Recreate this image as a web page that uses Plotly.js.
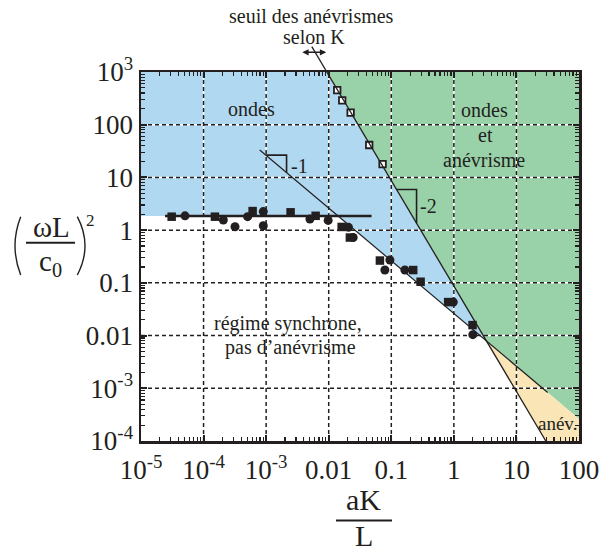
<!DOCTYPE html>
<html>
<head>
<meta charset="utf-8">
<script src="https://cdn.plot.ly/plotly-3.0.1.min.js"></script>
<style>html,body{margin:0;padding:0;background:#fff;}#chart{width:603px;height:551px;}</style>
</head>
<body>
<div id="chart"></div>
<script>
// ---------- data ----------
const X_TICKS = [1e-5, 1e-4, 1e-3, 0.01, 0.1, 1, 10, 100];
const X_TICK_TEXT = ['10<sup>-5</sup>', '10<sup>-4</sup>', '10<sup>-3</sup>', '0.01', '0.1', '1', '10', '100'];
const Y_TICKS = [1e-4, 1e-3, 0.01, 0.1, 1, 10, 100, 1000];
const Y_TICK_TEXT = ['10<sup>-4</sup>', '10<sup>-3</sup>', '0.01', '0.1', '1', '10', '100', '10<sup>3</sup>'];

// filled squares
const squaresX = [3.09e-5, 1.52e-4, 6.08e-4, 2.46e-3, 6.18e-3, 0.0161, 0.0218, 0.0658, 0.224, 0.294, 0.811, 1.99];
const squaresY = [1.80, 1.80, 2.30, 2.18, 1.87, 1.15, 0.724, 0.265, 0.175, 0.105, 0.0432, 0.0158];
// filled circles
const circlesX = [5.05e-5, 2.07e-4, 3.18e-4, 5.06e-4, 9.0e-4, 9.0e-4, 5.01e-3, 9.8e-3, 0.0207, 0.0246, 0.095, 0.079, 0.165, 0.98, 2.01];
const circlesY = [1.87, 1.56, 1.16, 1.80, 2.25, 1.21, 1.63, 1.53, 1.13, 0.724, 0.271, 0.175, 0.175, 0.0432, 0.0104];
// open squares (aneurysm threshold)
const openX = [0.01368, 0.01644, 0.0224, 0.0444, 0.0726];
const openY = [455, 290, 169, 41.2, 17.9];

// horizontal line (synchronous limit)
const hLineX = [2.42e-5, 0.0484];
const hLineY = [1.85, 1.85];
// slope -1 line (drawn part)
const lineAX = [7.9e-4, 31.6];
const lineAY = [33.2, 8.3e-4];
// slope -2 line (threshold according to K), from above the frame to the bottom axis
const lineBX = [5.37e-3, 29.5];
const lineBY = [3020, 1e-4];
// slope triangles: x extents on each line
const tri1X = [9.9e-4, 2.12e-3];
const tri2X = [0.1216, 0.2535];

// ---------- styling ----------
const F = 'Liberation Serif';
const C = '#231F20';
const BLUE = '#B0D8F1', GREEN = '#99D2A9', ORANGE = '#FAE5B6';
const XR = [-5, 2], YR = [-4, 3];
const L = 141, R = 579, T = 72, B = 441;
const PX = p => (p - L) / (R - L);
const PY = p => (B - p) / (B - T);

const lg = Math.log10;
function lineFn(xs, ys) {
  const m = (lg(ys[1]) - lg(ys[0])) / (lg(xs[1]) - lg(xs[0]));
  const c = lg(ys[0]) - m * lg(xs[0]);
  return {m, c, y: x => Math.pow(10, c + m * lg(x)), x: y => Math.pow(10, (lg(y) - c) / m)};
}
const A = lineFn(lineAX, lineAY);
const Bl = lineFn(lineBX, lineBY);
const xmin = Math.pow(10, XR[0]), xmax = Math.pow(10, XR[1]);
const ymin = Math.pow(10, YR[0]), ymax = Math.pow(10, YR[1]);

// intersections
const xHA = A.x(hLineY[0]);
const uAB = (Bl.c - A.c) / (A.m - Bl.m);
const xAB = Math.pow(10, uAB), yAB = A.y(xAB);
const xBtop = Bl.x(ymax), xBbot = Bl.x(ymin);
const yAright = A.y(xmax);

function poly(xs, ys, col) {
  return {x: xs, y: ys, type: 'scatter', mode: 'lines', fill: 'toself', fillcolor: col,
          line: {width: 0, color: col}, hoverinfo: 'skip'};
}
const traces = [];
traces.push(poly([xmin, xHA, xAB, xBtop, xmin], [hLineY[0], hLineY[0], yAB, ymax, ymax], BLUE));
traces.push(poly([xBtop, xAB, xmax, xmax], [ymax, yAB, yAright, ymax], GREEN));
traces.push(poly([xAB, xmax, xmax, xBbot], [yAB, yAright, ymin, ymin], ORANGE));

// grid lines (drawn as traces so they sit above the coloured regions)
const gx = [], gy = [];
X_TICKS.slice(1, -1).forEach(v => { gx.push(v, v, null); gy.push(ymin, ymax, null); });
Y_TICKS.slice(1, -1).forEach(v => { gx.push(xmin, xmax, null); gy.push(v, v, null); });
traces.push({x: gx, y: gy, type: 'scatter', mode: 'lines', line: {color: '#ffffff', width: 1.5}, hoverinfo: 'skip'});
traces.push({x: gx, y: gy, type: 'scatter', mode: 'lines', line: {color: C, width: 1.5, dash: '4px,3px'}, hoverinfo: 'skip'});

// horizontal line
traces.push({x: hLineX, y: hLineY, type: 'scatter', mode: 'lines', line: {color: C, width: 2.4}});
// slope -1 line
traces.push({x: lineAX, y: lineAY, type: 'scatter', mode: 'lines', line: {color: C, width: 1.2}});
// slope triangles
traces.push({x: [tri1X[0], tri1X[1], tri1X[1]], y: [A.y(tri1X[0]), A.y(tri1X[0]), A.y(tri1X[1])],
             type: 'scatter', mode: 'lines', line: {color: C, width: 1.6}});
traces.push({x: [tri2X[0], tri2X[1], tri2X[1]], y: [Bl.y(tri2X[0]), Bl.y(tri2X[0]), Bl.y(tri2X[1])],
             type: 'scatter', mode: 'lines', line: {color: C, width: 1.6}});
// markers
traces.push({x: squaresX, y: squaresY, type: 'scatter', mode: 'markers',
             marker: {symbol: 'square', size: 8.5, color: C, line: {width: 0}}});
traces.push({x: circlesX, y: circlesY, type: 'scatter', mode: 'markers',
             marker: {symbol: 'circle', size: 9, color: C, line: {width: 0}}});
traces.push({x: openX, y: openY, type: 'scatter', mode: 'markers',
             marker: {symbol: 'square', size: 6.5, color: '#ffffff', line: {width: 1.8, color: C}}});
// slope -2 line (drawn over the open squares)
traces.push({x: lineBX, y: lineBY, type: 'scatter', mode: 'lines', line: {color: C, width: 1.3}});

function ann(text, px, py, size, extra) {
  return Object.assign({xref: 'paper', yref: 'paper', x: PX(px), y: PY(py), text: text, showarrow: false,
    xanchor: 'center', yanchor: 'middle', font: {family: F, size: size, color: C}}, extra || {});
}
const annotations = [
  ann('seuil des anévrismes', 311, 16, 20),
  ann('selon K', 314, 37, 20),
  ann('ondes', 251, 109, 20),
  ann('ondes', 484, 110, 20),
  ann('et', 485, 135, 20),
  ann('anévrisme', 484, 160, 20),
  ann('-1', 299, 166, 20),
  ann('-2', 428, 206, 20),
  ann('régime synchrone,', 288, 323, 20),
  ann('pas d’anévrisme', 290, 347, 20),
  ann('anév.', 557, 423, 19),
  ann('ωL', 51.7, 227, 29),
  ann('c<sub>0</sub>', 50, 263, 29),
  ann('2', 90, 220, 17),
  ann('aK', 363.5, 499, 30),
  ann('L', 363.5, 535, 30),
  {xref: 'paper', yref: 'paper', x: PX(302.3), y: PY(52.3), ax: 25.4, ay: 0, text: '', showarrow: true,
   arrowside: 'end+start', arrowhead: 2, startarrowhead: 2, arrowsize: 0.9, startarrowsize: 0.9,
   arrowwidth: 1.4, arrowcolor: C}
];

const shapes = [
  // continuation of threshold line above the frame
  {type: 'line', xref: 'x', yref: 'paper', x0: xBtop, y0: 1, x1: lineBX[0], y1: (lg(lineBY[0]) - YR[0]) / (YR[1] - YR[0]),
   line: {color: C, width: 1.3}},
  // fraction bars
  {type: 'line', xref: 'paper', yref: 'paper', x0: PX(26), x1: PX(75), y0: PY(242.7), y1: PY(242.7), line: {color: C, width: 2}},
  {type: 'line', xref: 'paper', yref: 'paper', x0: PX(336), x1: PX(392), y0: PY(520.5), y1: PY(520.5), line: {color: C, width: 1.8}},
  // parentheses
  {type: 'path', xref: 'paper', yref: 'paper',
   path: `M ${PX(20.7)},${PY(216.7)} Q ${PX(9.3)},${PY(245.8)} ${PX(20.7)},${PY(275)}`, line: {color: C, width: 1.4}},
  {type: 'path', xref: 'paper', yref: 'paper',
   path: `M ${PX(77.3)},${PY(216.7)} Q ${PX(92.7)},${PY(245.8)} ${PX(77.3)},${PY(275)}`, line: {color: C, width: 1.4}}
];

const axisCommon = {
  type: 'log', showgrid: false, zeroline: false, showline: true, linecolor: C, linewidth: 2.5,
  mirror: 'ticks', ticks: 'inside', ticklen: 6, tickwidth: 2, tickcolor: C, tickmode: 'array',
  tickfont: {family: F, size: 27, color: C},
  minor: {ticks: 'inside', ticklen: 4, tickwidth: 1.2, tickcolor: C, dtick: 'D1', showgrid: false}
};
const layout = {
  width: 603, height: 551,
  margin: {l: L, r: 603 - R, t: T, b: 551 - B},
  paper_bgcolor: '#ffffff', plot_bgcolor: '#ffffff',
  showlegend: false,
  font: {family: F, color: C},
  xaxis: Object.assign({}, axisCommon, {range: XR, tickvals: X_TICKS, ticktext: X_TICK_TEXT, ticklabelstandoff: 3}),
  yaxis: Object.assign({}, axisCommon, {range: YR, tickvals: Y_TICKS, ticktext: Y_TICK_TEXT}),
  annotations: annotations,
  shapes: shapes
};
Plotly.newPlot('chart', traces, layout, {staticPlot: true, displayModeBar: false});
</script>
</body>
</html>
